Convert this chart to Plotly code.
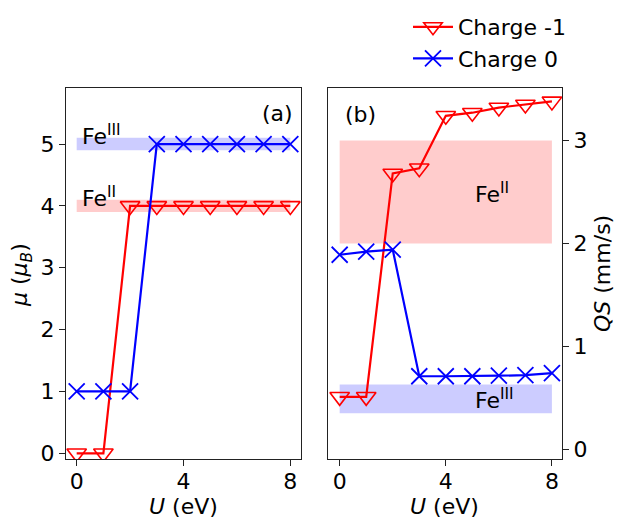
import plotly.graph_objects as go

# ---- data ----
U = [0, 1, 2, 3, 4, 5, 6, 7, 8]
mu_charge_m1 = [0, 0, 4, 4, 4, 4, 4, 4, 4]
mu_charge_0 = [1, 1, 1, 5, 5, 5, 5, 5, 5]
qs_charge_m1 = [0.51, 0.51, 2.68, 2.73, 3.24, 3.27, 3.32, 3.35, 3.38]
qs_charge_0 = [1.89, 1.92, 1.94, 0.71, 0.71, 0.71, 0.715, 0.72, 0.74]

series_names = ["Charge -1", "Charge 0"]
x_ticks = [0, 4, 8]
mu_ticks = [0, 1, 2, 3, 4, 5]
qs_ticks = [0, 1, 2, 3]

# reference bands: (x0, x1, y0, y1)
band_mu_fe3 = [0, 8, 4.9, 5.1]
band_mu_fe2 = [0, 8, 3.9, 4.1]
band_qs_fe2 = [0, 8, 2.0, 3.0]
band_qs_fe3 = [0, 8, 0.35, 0.63]

RED = "#ff0000"
BLUE = "#0000ff"
RED_BAND = "rgba(255,0,0,0.2)"
BLUE_BAND = "rgba(0,0,255,0.2)"
FONT = "DejaVu Sans"
FS = 22

fig = go.Figure()

tri = dict(symbol="triangle-down-open", size=17, color=RED, line=dict(color=RED, width=1.6))
crs = dict(symbol="x-thin", size=16, color=BLUE, line=dict(color=BLUE, width=1.8))

fig.add_trace(go.Scatter(x=U, y=mu_charge_m1, mode="lines+markers", name=series_names[0],
                         line=dict(color=RED, width=2.2), marker=tri, xaxis="x", yaxis="y"))
fig.add_trace(go.Scatter(x=U, y=mu_charge_0, mode="lines+markers", name=series_names[1],
                         line=dict(color=BLUE, width=2.2), marker=crs, xaxis="x", yaxis="y"))
fig.add_trace(go.Scatter(x=U, y=qs_charge_m1, mode="lines+markers", name=series_names[0],
                         line=dict(color=RED, width=2.2), marker=tri, xaxis="x2", yaxis="y2",
                         showlegend=False))
fig.add_trace(go.Scatter(x=U, y=qs_charge_0, mode="lines+markers", name=series_names[1],
                         line=dict(color=BLUE, width=2.2), marker=crs, xaxis="x2", yaxis="y2",
                         showlegend=False))

shapes = []
for band, col, xr, yr in [(band_mu_fe3, BLUE_BAND, "x", "y"), (band_mu_fe2, RED_BAND, "x", "y"),
                          (band_qs_fe2, RED_BAND, "x2", "y2"), (band_qs_fe3, BLUE_BAND, "x2", "y2")]:
    shapes.append(dict(type="rect", xref=xr, yref=yr, x0=band[0], x1=band[1], y0=band[2], y1=band[3],
                       fillcolor=col, line=dict(width=0), layer="below"))

W, H = 617, 518
ann_font = dict(family=FONT, size=FS, color="black")
annotations = [
    dict(x=0.12, y=5.15, xref="x", yref="y", text="Fe<sup>III</sup>", showarrow=False,
         xanchor="left", yanchor="middle", font=ann_font),
    dict(x=0.14, y=4.15, xref="x", yref="y", text="Fe<sup>II</sup>", showarrow=False,
         xanchor="left", yanchor="middle", font=ann_font),
    dict(x=8.16, y=5.49, xref="x", yref="y", text="(a)", showarrow=False,
         xanchor="right", yanchor="middle", font=ann_font),
    dict(x=0.11, y=3.25, xref="x2", yref="y2", text="(b)", showarrow=False,
         xanchor="left", yanchor="middle", font=ann_font),
    dict(x=5.03, y=2.49, xref="x2", yref="y2", text="Fe<sup>II</sup>", showarrow=False,
         xanchor="left", yanchor="middle", font=ann_font),
    dict(x=5.03, y=0.49, xref="x2", yref="y2", text="Fe<sup>III</sup>", showarrow=False,
         xanchor="left", yanchor="middle", font=ann_font),
    # axis titles
    dict(x=183.5 / W, y=(H - 506) / H, xref="paper", yref="paper", text="<i>U</i> (eV)",
         showarrow=False, xanchor="center", yanchor="middle", font=ann_font),
    dict(x=445 / W, y=(H - 506) / H, xref="paper", yref="paper", text="<i>U</i> (eV)",
         showarrow=False, xanchor="center", yanchor="middle", font=ann_font),
    dict(x=22 / W, y=(H - 275) / H, xref="paper", yref="paper",
         text="<i>μ</i> (<i>μ</i><sub><i>B</i></sub>)", textangle=-90,
         showarrow=False, xanchor="center", yanchor="middle", font=ann_font),
    dict(x=602 / W, y=(H - 274) / H, xref="paper", yref="paper",
         text="<i>QS</i> (mm/s)", textangle=-90,
         showarrow=False, xanchor="center", yanchor="middle", font=ann_font),
]

ydom = [(H - 459) / H, (H - 88) / H]

axis_common = dict(showline=True, mirror=True, linecolor="#222", linewidth=1.4,
                   ticks="outside", ticklen=6, tickwidth=1.4, tickcolor="#222",
                   showgrid=False, zeroline=False, automargin=False,
                   tickfont=dict(family=FONT, size=FS, color="black"))

fig.update_layout(
    width=W, height=H,
    margin=dict(l=0, r=0, t=0, b=0),
    paper_bgcolor="white", plot_bgcolor="white",
    font=dict(family=FONT, size=FS, color="black"),
    shapes=shapes, annotations=annotations,
    xaxis=dict(domain=[66 / W, 301 / W], range=[-0.4, 8.4], tickvals=x_ticks,
               anchor="y", ticklabelstandoff=-4, **axis_common),
    yaxis=dict(domain=ydom, range=[-0.092, 5.906], tickvals=mu_ticks, anchor="x", **axis_common),
    xaxis2=dict(domain=[328 / W, 562 / W], range=[-0.44, 8.38], tickvals=x_ticks,
                anchor="y2", ticklabelstandoff=-4, **axis_common),
    yaxis2=dict(domain=ydom, range=[-0.094, 3.51], tickvals=qs_ticks, anchor="x2", side="right",
                **axis_common),
    legend=dict(x=408 / W, y=1 - 6 / H, xanchor="left", yanchor="top",
                font=dict(family=FONT, size=FS, color="black"),
                bgcolor="rgba(0,0,0,0)", borderwidth=0, itemwidth=40, tracegroupgap=0),
    showlegend=True,
)

fig.write_html("out.html", config={"displayModeBar": False},
               post_script="document.body.style.margin='0';document.body.style.padding='0';")
